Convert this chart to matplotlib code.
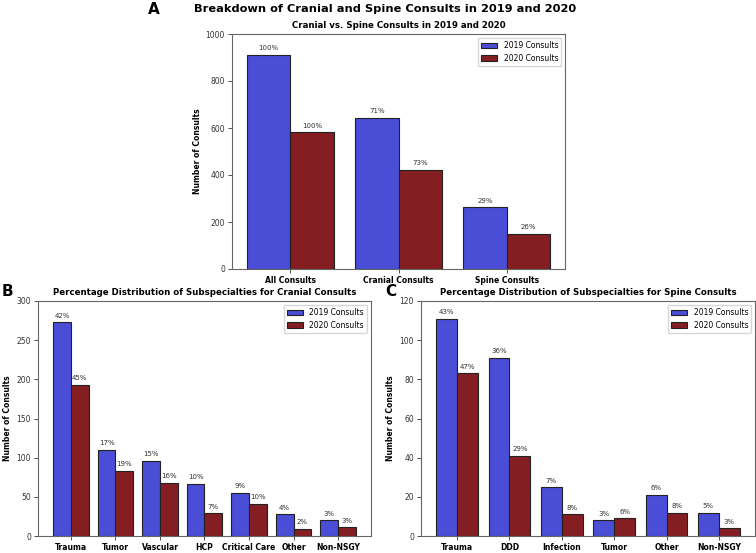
import matplotlib
matplotlib.use('Agg')
import matplotlib.pyplot as plt
import numpy as np

# panel A
cats_a = ['All Consults', 'Cranial Consults', 'Spine Consults']
a_2019 = [911, 643, 262]
a_2020 = [582, 423, 149]
a_pct_2019 = ['100%', '71%', '29%']
a_pct_2020 = ['100%', '73%', '26%']

# panel B
cats_b = ['Trauma', 'Tumor', 'Vascular', 'HCP', 'Critical Care', 'Other', 'Non-NSGY']
b_2019 = [273, 110, 96, 67, 55, 28, 20]
b_2020 = [193, 83, 68, 29, 41, 9, 11]
b_pct_2019 = ['42%', '17%', '15%', '10%', '9%', '4%', '3%']
b_pct_2020 = ['45%', '19%', '16%', '7%', '10%', '2%', '3%']

# panel C
cats_c = ['Trauma', 'DDD', 'Infection', 'Tumor', 'Other', 'Non-NSGY']
c_2019 = [111, 91, 25, 8, 21, 12]
c_2020 = [83, 41, 11, 9, 12, 4]
c_pct_2019 = ['43%', '36%', '7%', '3%', '6%', '5%']
c_pct_2020 = ['47%', '29%', '8%', '6%', '8%', '3%']

BLUE = '#4a4dd6'
RED = '#841e22'


def panel(ax, cats, v19, v20, p19, p20, title, ymax, step):
    x = np.arange(len(cats))
    w = 0.4
    b1 = ax.bar(x - w/2, v19, w, color=BLUE, edgecolor='#222222', linewidth=0.8, label='2019 Consults')
    b2 = ax.bar(x + w/2, v20, w, color=RED, edgecolor='#222222', linewidth=0.8, label='2020 Consults')
    off = ymax * 0.015
    for r, t in zip(list(b1) + list(b2), list(p19) + list(p20)):
        ax.text(r.get_x() + r.get_width()/2, r.get_height() + off, t,
                ha='center', va='bottom', fontsize=5, color='#333333')
    ax.set_xticks(x)
    ax.set_xticklabels(cats, fontweight='bold', fontsize=5.5)
    ax.set_ylim(0, ymax)
    ax.set_yticks(np.arange(0, ymax + 1, step))
    ax.tick_params(axis='both', labelsize=5.5, pad=2, length=3, width=0.6, colors='#333333')
    for lab in ax.get_xticklabels():
        lab.set_color('black')
    ax.set_ylabel('Number of Consults', fontweight='bold', fontsize=5.5, labelpad=3)
    ax.set_title(title, fontweight='bold', fontsize=6.2, pad=4)
    ax.legend(fontsize=5.5, loc='upper right', handlelength=2.2, borderpad=0.4)
    for s in ax.spines.values():
        s.set_color('#666666')


fig = plt.figure(figsize=(7.56, 5.53), dpi=100)
W, H = 756, 553
axA = fig.add_axes([232/W, 1 - 269/H, 333/W, 235/H])
axB = fig.add_axes([38/W, 1 - 536/H, 333/W, 235/H])
axC = fig.add_axes([421/W, 1 - 536/H, 334/W, 235/H])

panel(axA, cats_a, a_2019, a_2020, a_pct_2019, a_pct_2020,
      'Cranial vs. Spine Consults in 2019 and 2020', 1000, 200)
panel(axB, cats_b, b_2019, b_2020, b_pct_2019, b_pct_2020,
      'Percentage Distribution of Subspecialties for Cranial Consults', 300, 50)
panel(axC, cats_c, c_2019, c_2020, c_pct_2019, c_pct_2020,
      'Percentage Distribution of Subspecialties for Spine Consults', 120, 20)

fig.text(385/W, 1 - 9/H, 'Breakdown of Cranial and Spine Consults in 2019 and 2020',
         ha='center', va='center', fontweight='bold', fontsize=8.2)
fig.text(154/W, 1 - 10/H, 'A', ha='center', va='center', fontweight='bold', fontsize=11)
fig.text(7/W, 1 - 292/H, 'B', ha='center', va='center', fontweight='bold', fontsize=11)
fig.text(391/W, 1 - 292/H, 'C', ha='center', va='center', fontweight='bold', fontsize=11)

fig.savefig('out.png', dpi=100)
